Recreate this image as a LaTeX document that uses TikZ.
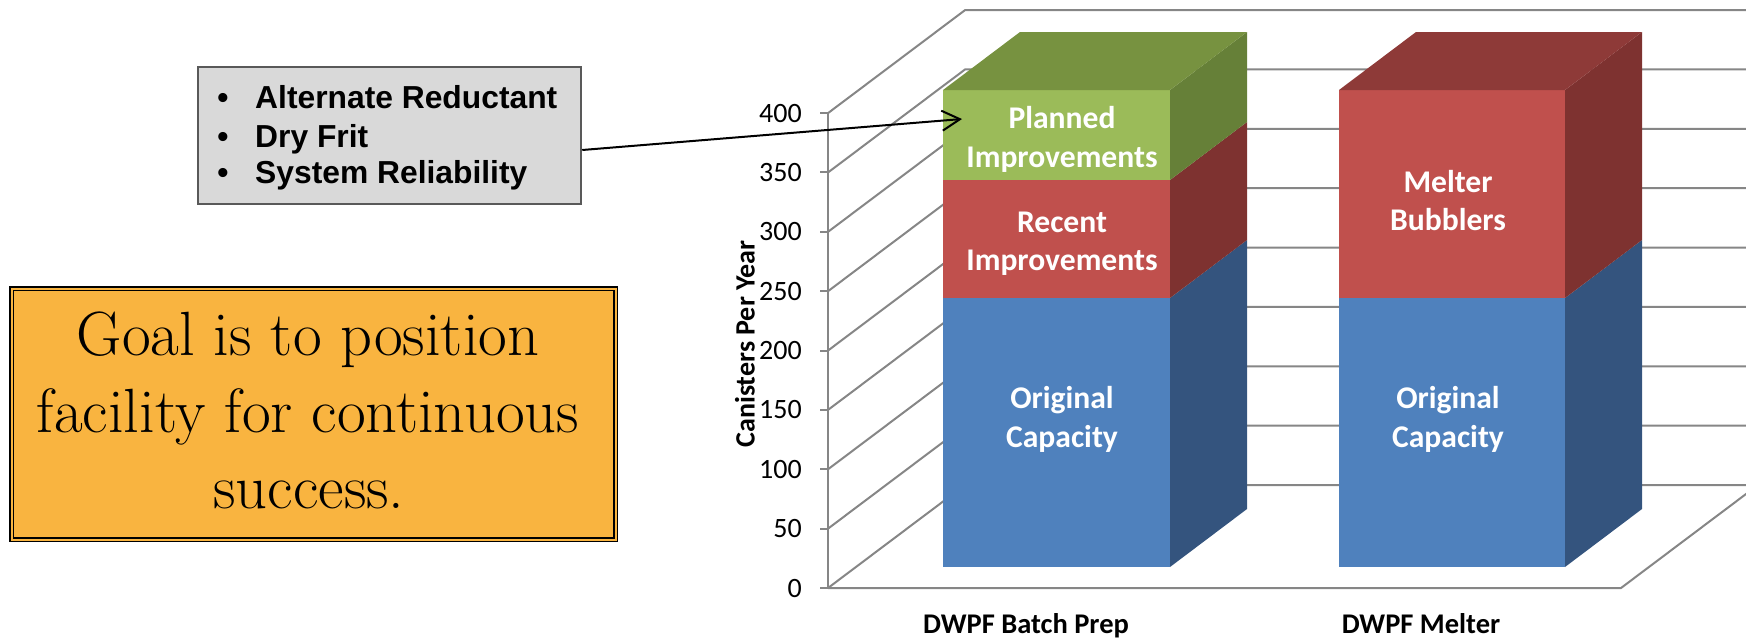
\documentclass[tikz,border=0pt]{standalone}
\usepackage{fontspec}
\newfontfamily\calib{Carlito}
\newfontfamily\arialb{Liberation Sans}
\usetikzlibrary{arrows.meta}
\definecolor{gridc}{RGB}{134,134,134}
\definecolor{blueF}{RGB}{79,129,189}
\definecolor{blueS}{RGB}{52,84,126}
\definecolor{redF}{RGB}{192,80,77}
\definecolor{redS}{RGB}{126,50,48}
\definecolor{redT}{RGB}{142,58,56}
\definecolor{greenF}{RGB}{155,187,89}
\definecolor{greenS}{RGB}{102,128,56}
\definecolor{greenT}{RGB}{119,146,64}
\definecolor{orangebg}{RGB}{249,180,64}
\definecolor{grayfill}{RGB}{217,217,217}
\definecolor{grayborder}{RGB}{89,89,89}
\tikzset{
  gridline/.style={draw=gridc, line width=2pt},
  ticklab/.style={font=\calib\fontsize{28}{30}\selectfont, anchor=base east, inner sep=0pt},
  barlab/.style={font=\calib\bfseries\fontsize{31.6}{36}\selectfont, text=white, anchor=base, inner sep=0pt},
  catlab/.style={font=\calib\bfseries\fontsize{28.5}{30}\selectfont, anchor=base, inner sep=0pt},
  bulletlab/.style={font=\arialb\bfseries\fontsize{31.8}{36}\selectfont, anchor=base, inner sep=0pt},
  itemlab/.style={font=\arialb\bfseries\fontsize{31.8}{36}\selectfont, anchor=base west, inner sep=0pt},
  goallab/.style={font=\rmfamily\fontsize{62.5}{66}\selectfont, anchor=base, inner sep=0pt},
}
\newcommand\barseg[6]{%
  \fill[#5] (#1,#3) rectangle (#2,#4);
  \fill[#6] (#2,#3) -- ++(77,-58) -- ++(0,#4-#3) -- (#2,#4) -- cycle;}
\newcommand\bartop[4]{%
  \fill[#4] (#1,#3) -- ++(77,-58) -- ++(#2-#1,0) -- (#2,#3) -- cycle;}
\begin{document}
\begin{tikzpicture}[x=1pt,y=-1pt]
\useasboundingbox (0,0) rectangle (1746,638);
% walls and grid
\foreach \k in {0,...,8}{
  \pgfmathsetmacro\yy{588-59.36*\k}
  \pgfmathtruncatemacro\vv{50*\k}
  \draw[gridline] (828,\yy) -- ++(137,-103) -- (1760,\yy-103);
  \draw[gridline] (820,\yy) -- (828,\yy);
  \node[ticklab] (tick\k) at (802,\yy+9) {\vv};
}
\draw[gridline] (828,113.1) -- (828,588);
\draw[gridline] (828,588) -- (1621,588) -- ++(137,-103);
% bar 1
\barseg{943}{1170}{298}{567}{blueF}{blueS}
\barseg{943}{1170}{180}{298}{redF}{redS}
\barseg{943}{1170}{90}{180}{greenF}{greenS}
\bartop{943}{1170}{90}{greenT}
% bar 2
\barseg{1339}{1565}{298}{567}{blueF}{blueS}
\barseg{1339}{1565}{90}{298}{redF}{redS}
\bartop{1339}{1565}{90}{redT}
% bar labels
\node[barlab] (pl1) at (1062,128) {Planned};
\node[barlab] (pl2) at (1062,167) {Improvements};
\node[barlab] (re1) at (1062,232) {Recent};
\node[barlab] (re2) at (1062,270) {Improvements};
\node[barlab] (or1) at (1062,408) {Original};
\node[barlab] (or2) at (1062,447) {Capacity};
\node[barlab] (me1) at (1448,192) {Melter};
\node[barlab] (me2) at (1448,230) {Bubblers};
\node[barlab] (oc1) at (1448,408) {Original};
\node[barlab] (oc2) at (1448,447) {Capacity};
% axis titles
\node[font=\calib\bfseries\fontsize{28}{30}\selectfont, rotate=90] (ytitle) at (745,344) {Canisters Per Year};
\node[catlab] (cat1) at (1026,633) {DWPF Batch Prep};
\node[catlab] (cat2) at (1421,633) {DWPF Melter};
% gray box
\node[draw=grayborder, fill=grayfill, line width=2.5pt, minimum width=383pt, minimum height=137pt, inner sep=0pt] (gbox) at (389.5,135.5) {};
\node[bulletlab] (b1) at (223,108) {•};
\node[bulletlab] (b2) at (223,147) {•};
\node[bulletlab] (b3) at (223,183) {•};
\node[itemlab] (i1) at (255,108) {Alternate Reductant};
\node[itemlab] (i2) at (255,147) {Dry Frit};
\node[itemlab] (i3) at (255,183) {System Reliability};
\coordinate (tip) at (962,119);
\draw[line width=2pt, -{Straight Barb[length=18pt,width=20pt]}] ([yshift=-14.5pt]gbox.east) -- (tip);
% orange box
\node[draw=black, double=orangebg, double distance=2pt, line width=1.5pt, fill=orangebg, minimum width=604pt, minimum height=251pt, inner sep=0pt] (obox) at (313.5,414) {};
\node[goallab] (g1) at (308,355) {Goal is to position};
\node[goallab] (g2) at (308,432) {facility for continuous};
\node[goallab] (g3) at (309,508) {success.};
\end{tikzpicture}
\end{document}
